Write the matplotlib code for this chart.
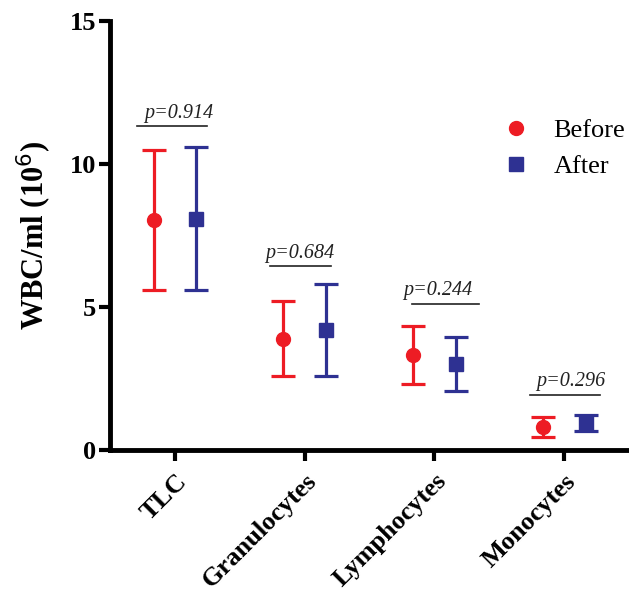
import matplotlib
matplotlib.use("Agg")
import matplotlib.pyplot as plt
import numpy as np

plt.rcParams['font.family'] = ['Liberation Serif', 'DejaVu Serif']

# data (WBC/ml, x10^6)
categories = ['TLC', 'Granulocytes', 'Lymphocytes', 'Monocytes']
before_mean = [8.05, 3.89, 3.33, 0.79]
before_low = [5.6, 2.57, 2.3, 0.47]
before_high = [10.49, 5.21, 4.35, 1.14]
after_mean = [8.09, 4.18, 3.01, 0.93]
after_low = [5.6, 2.57, 2.07, 0.65]
after_high = [10.6, 5.8, 3.96, 1.24]
p_labels = ['p=0.914', 'p=0.684', 'p=0.244', 'p=0.296']
p_line_y = [11.32, 6.42, 5.11, 1.93]

red = '#ED1C24'
blue = '#2E3192'

fig = plt.figure(figsize=(6.29, 5.95), dpi=100)
ax = fig.add_axes([0.175, 0.2437, 0.825, 0.721])

x = np.arange(len(categories))
off = 0.165

def draw(xpos, mean, low, high, color, marker, label):
    mean = np.array(mean)
    err = [mean - np.array(low), np.array(high) - mean]
    ax.errorbar(xpos, mean, yerr=err, fmt=marker, color=color, ms=10,
                elinewidth=2.3, capsize=8.5, capthick=2.3, label=label,
                clip_on=False)

draw(x - off, before_mean, before_low, before_high, red, 'o', 'Before')
draw(x + off, after_mean, after_low, after_high, blue, 's', 'After')

# p-value brackets
line_l = [-0.29, -0.27, -0.17, -0.26]
line_r = [0.25, 0.20, 0.34, 0.28]
text_dx = [0.03, -0.04, 0.03, 0.05]
for i in range(len(categories)):
    ax.plot([x[i] + line_l[i], x[i] + line_r[i]], [p_line_y[i], p_line_y[i]],
            color='#222222', lw=1.2)
    ax.text(x[i] + text_dx[i], p_line_y[i] + 0.12, p_labels[i], ha='center',
            va='bottom', style='italic', fontsize=14.5, color='#222222')

ax.set_xlim(-0.5, 3.5)
ax.set_ylim(0, 15)
ax.set_yticks([0, 5, 10, 15])
ax.set_xticks(x)
ax.set_xticklabels(categories, rotation=45, ha='right', rotation_mode='anchor',
                   fontsize=19, fontweight='bold')
for t in ax.get_yticklabels():
    t.set_fontsize(19)
    t.set_fontweight('bold')
ax.tick_params(width=3, length=8, direction='out', pad=2)
ax.tick_params(axis='x', pad=6)
for s in ['top', 'right']:
    ax.spines[s].set_visible(False)
for s in ['left', 'bottom']:
    ax.spines[s].set_linewidth(3.5)
ax.set_ylabel('WBC/ml (10$^{6}$)', fontsize=22, fontweight='bold', labelpad=11)

h, l = ax.get_legend_handles_labels()
h = [hh[0] for hh in h]
ax.legend(h, l, loc='upper left', bbox_to_anchor=(0.8, 0.8),
          bbox_transform=fig.transFigure, frameon=False, fontsize=19,
          handlelength=1.0, handletextpad=0.9, labelspacing=0.45,
          borderpad=0, borderaxespad=0)

fig.savefig('out.png', dpi=100)
